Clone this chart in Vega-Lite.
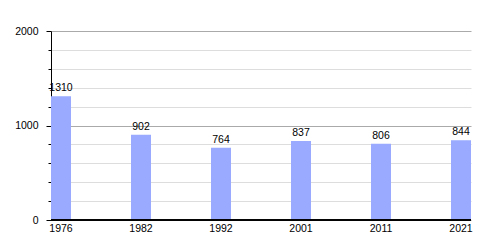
{
  "$schema": "https://vega.github.io/schema/vega-lite/v6.json",
  "width": 420,
  "height": 189,
  "autosize": "none",
  "padding": {"left": 51, "top": 31, "right": 29, "bottom": 30},
  "background": "white",
  "config": {
    "view": {"stroke": null},
    "font": "Liberation Sans",
    "axis": {"labelFont": "Liberation Sans", "labelFontSize": 10.5, "labelColor": "black"}
  },
  "data": {
    "values": [
      {"year": "1976", "pop": 1310},
      {"year": "1982", "pop": 902},
      {"year": "1992", "pop": 764},
      {"year": "2001", "pop": 837},
      {"year": "2011", "pop": 806},
      {"year": "2021", "pop": 844}
    ]
  },
  "encoding": {
    "x": {
      "field": "year", "type": "ordinal",
      "scale": {"paddingInner": 0.75, "paddingOuter": 0, "align": 0},
      "axis": {"title": null, "labelAngle": 0, "ticks": false, "domain": false, "labelPadding": 3, "grid": false}
    },
    "y": {
      "field": "pop", "type": "quantitative",
      "scale": {"domain": [0, 2000], "nice": false},
      "axis": {
        "title": null,
        "format": "d",
        "values": [0, 200, 400, 600, 800, 1000, 1200, 1400, 1600, 1800, 2000],
        "labelExpr": "datum.value % 1000 == 0 ? datum.label : ''",
        "grid": true,
        "gridColor": {"expr": "datum.value % 1000 == 0 ? '#aaaaaa' : '#dddddd'"},
        "tickSize": {"expr": "datum.value % 1000 == 0 ? 5 : 3"},
        "tickColor": "black",
        "domainColor": "black",
        "labelPadding": 8
      }
    }
  },
  "layer": [
    {"mark": {"type": "bar", "color": "#99aaff"}},
    {
      "mark": {"type": "text", "baseline": "bottom", "dy": -3, "fontSize": 10.5, "color": "black"},
      "encoding": {"text": {"field": "pop", "type": "quantitative", "format": "d"}}
    },
    {
      "mark": {"type": "rule", "color": "black"},
      "encoding": {"y": {"datum": 0}, "x": null}
    }
  ]
}
